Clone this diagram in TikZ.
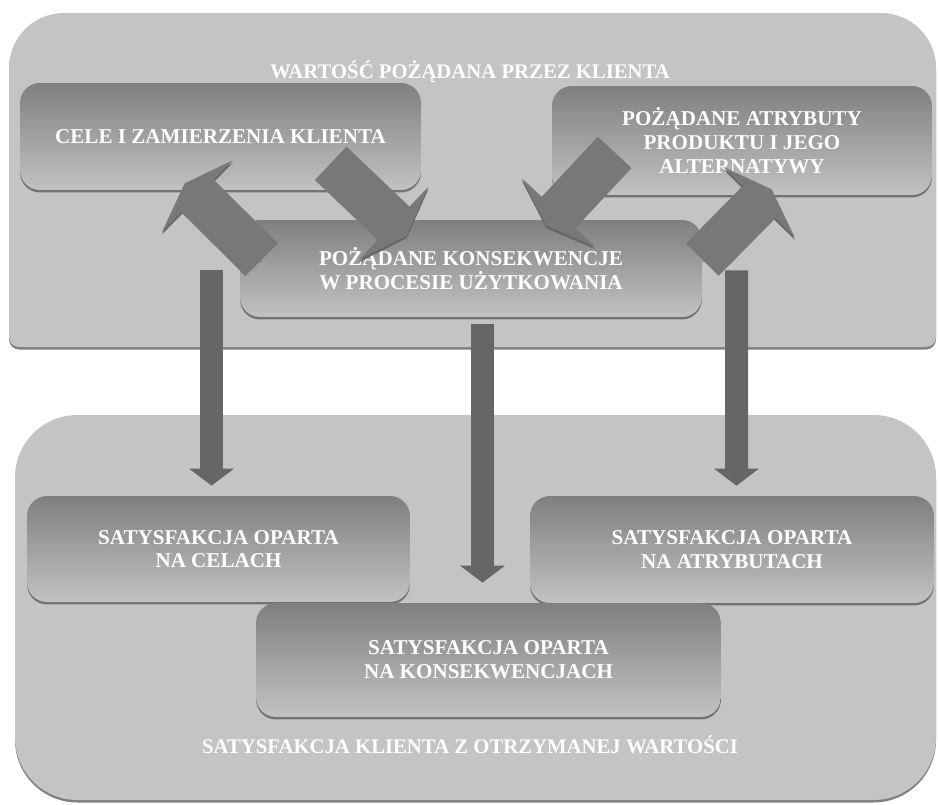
\documentclass[tikz,border=0pt]{standalone}
\usepackage{fontspec}
\setmainfont{Liberation Serif}
\usetikzlibrary{arrows.meta,calc}
\definecolor{panelgray}{HTML}{C4C4C4}
\definecolor{boxtop}{HTML}{7F7F7F}
\definecolor{boxbottom}{HTML}{C2C2C2}
\definecolor{arrowgray}{HTML}{666666}
\definecolor{diaggray}{HTML}{787878}

\begin{document}
\begin{tikzpicture}[
    x=0.02cm, y=-0.02cm,
    panel/.style={fill=panelgray, preaction={fill=black!50, transform canvas={yshift=-0.5mm}}},
    box/.style={rounded corners=0.4cm, top color=boxtop, bottom color=boxbottom, inner sep=0pt,
        text=white, align=center, font=\bfseries\fontsize{12}{13.5}\selectfont,
        preaction={fill=black!55, transform canvas={yshift=-0.5mm}}},
    title/.style={text=white, font=\bfseries\fontsize{11.8}{13.5}\selectfont},
    varrow/.style={draw=arrowgray, line width=4.6mm, -{Triangle[width=8.8mm, length=3.4mm]}},
    darrow/.style={draw=diaggray, line width=9.2mm, -{Triangle[width=20mm, length=3.6mm]},
        preaction={draw=black!60, transform canvas={yshift=-0.5mm}}}
]
\useasboundingbox (0,0) rectangle (938,805);
\fill[panel] (9,180) [rounded corners=1.1cm] -- (9,13) -- (936,13) -- (936,180)
    [rounded corners=0.2cm] -- (936,347) -- (9,347) -- cycle;
\fill[panel] (15,415) [rounded corners=1.25cm] -- (936,415) -- (936,800) -- (15,800) -- cycle;
\node[title] (wartosc) at (470,72) {WARTOŚĆ POŻĄDANA PRZEZ KLIENTA};
\node[title] (satysfakcja) at (470,745) {SATYSFAKCJA KLIENTA Z OTRZYMANEJ WARTOŚCI};

\node[box, minimum width=8.02cm, minimum height=2.14cm] (cele) at (220.5,136.5)
    {CELE I ZAMIERZENIA KLIENTA};
\node[box, minimum width=7.6cm, minimum height=2.18cm] (atr) at (742,140.5)
    {POŻĄDANE ATRYBUTY\\PRODUKTU I JEGO\\ALTERNATYWY};
\node[box, minimum width=9.24cm, minimum height=1.94cm] (cons) at (471,268.5)
    {POŻĄDANE KONSEKWENCJE\\W PROCESIE UŻYTKOWANIA};
\node[box, minimum width=7.66cm, minimum height=2.12cm] (celsat) at (218.5,549)
    {SATYSFAKCJA OPARTA\\NA CELACH};
\node[box, minimum width=8.08cm, minimum height=2.14cm] (atrsat) at (732,549.5)
    {SATYSFAKCJA OPARTA\\NA ATRYBUTACH};
\node[box, minimum width=9.3cm, minimum height=2.28cm] (konsat) at (488.5,660)
    {SATYSFAKCJA OPARTA\\NA KONSEKWENCJACH};

\draw[darrow] ($(cons.north west)+(22,40)$) -- ($(cele.south west)+(165,-7)$);
\draw[darrow] ($(cele.south west)+(311,-27)$) -- ($(cons.north west)+(167,16)$);
\draw[darrow] ($(atr.south west)+(63,-43)$) -- ($(cons.north east)+(-156,6)$);
\draw[darrow] ($(cons.north east)+(0,40)$) -- ($(atr.south west)+(220,-6)$);

\draw[varrow] ($(cele.south)+(-9,80)$) -- ($(celsat.north)+(-7,-10)$);
\draw[varrow] ($(cons.south)+(11.5,7)$) -- ($(konsat.north)+(-6,-20)$);
\draw[varrow] ($(atr.south)+(-5.5,75)$) -- ($(atrsat.north)+(4.5,-10)$);
\end{tikzpicture}
\end{document}
